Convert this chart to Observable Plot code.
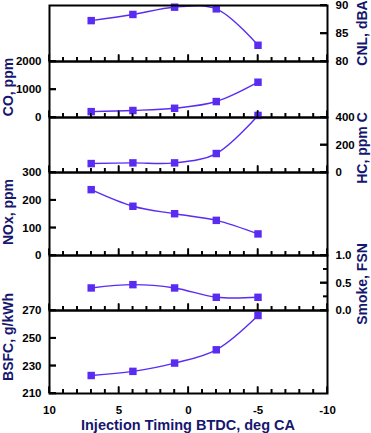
<!DOCTYPE html>
<html><head><meta charset="utf-8">
<script src="https://cdn.jsdelivr.net/npm/d3@7"></script>
<script src="https://cdn.jsdelivr.net/npm/@observablehq/plot@0.6"></script>
<style>
body{margin:0;background:#fff;}
#c{position:relative;width:371px;height:433px;overflow:hidden;font-family:"Liberation Sans",Arial,sans-serif;}
#c svg{position:absolute;left:0;}
</style></head><body><div id="c"></div>
<script>
// Data
const timing = [7, 4, 1, -2, -5];               // Injection timing BTDC, deg CA
const cnl    = [87.3, 88.4, 89.7, 89.4, 82.9];  // CNL, dBA
const co     = [210, 250, 330, 570, 1260];      // CO, ppm
const hc     = [65, 70, 70, 138, 415];          // HC, ppm C
const nox    = [238, 178, 151, 127, 78];        // NOx, ppm
const smoke  = [0.41, 0.47, 0.41, 0.24, 0.24];  // Smoke, FSN
const bsfc   = [223, 226, 232, 241.6, 266.4];   // BSFC, g/kWh

const xTickLabels = [10, 5, 0, -5, -10];
const xMinorTicks = d3.range(-10, 11);
const xTitle = "Injection Timing BTDC, deg CA";

const panels = [
  {values: cnl,   domain: [80, 90],   ticks: [80, 85, 90],        minor: [],          fmt: d => String(d),    side: "right", title: "CNL, dBA",    top: 5,   bottom: 61,  ty: 33},
  {values: co,    domain: [0, 2000],  ticks: [0, 1000, 2000],     minor: [],          fmt: d => String(d),    side: "left",  title: "CO, ppm",     top: 61,  bottom: 117, ty: 87},
  {values: hc,    domain: [0, 400],   ticks: [0, 200, 400],       minor: [],          fmt: d => String(d),    side: "right", title: "HC, ppm C",   top: 117, bottom: 172, ty: 148},
  {values: nox,   domain: [0, 300],   ticks: [0, 100, 200, 300],  minor: [],          fmt: d => String(d),    side: "left",  title: "NOx, ppm",    top: 172, bottom: 255, ty: 212},
  {values: smoke, domain: [0, 1],     ticks: [0, 0.5, 1],         minor: [0.25, 0.75], fmt: d => d.toFixed(1), side: "right", title: "Smoke, FSN",  top: 255, bottom: 310, ty: 284},
  {values: bsfc,  domain: [210, 270], ticks: [210, 230, 250, 270], minor: [],         fmt: d => String(d),    side: "left",  title: "BSFC, g/kWh", top: 310, bottom: 393, ty: 337}
];

const color = "#5a2cf2";
const navy = "#16166e";
const W = 371, ML = 49, MR = 44;
const PW = W - ML - MR;
const X0 = 10, X1 = -10;
const container = document.getElementById("c");
const built = [];

panels.forEach((p, i) => {
  const last = i === panels.length - 1;
  const mt = 4, mb = last ? 40 : 4;
  const ph = p.bottom - p.top;
  const [lo, hi] = p.domain;
  const data = timing.map((t, j) => ({t, v: p.values[j]}));
  // pixel lengths converted to data units so that the scales place the ticks
  const xu = px => px / PW * (X0 - X1);
  const yu = px => px / ph * (hi - lo);
  const yEdge = p.side === "left" ? X0 : X1;
  const yIn = len => p.side === "left" ? X0 - xu(len) : X1 + xu(len);
  const marks = [
    Plot.rect(xMinorTicks, {x1: d => d + xu(0.6), x2: d => d - xu(0.6), y1: lo, y2: d => lo + yu(xTickLabels.includes(d) ? 6.5 : 4), fill: "#000"}),
    Plot.rect(p.ticks, {x1: yEdge, x2: yIn(7), y1: d => d - yu(0.8), y2: d => d + yu(0.8), fill: "#000"}),
    Plot.rect(p.minor, {x1: yEdge, x2: yIn(4), y1: d => d - yu(0.6), y2: d => d + yu(0.6), fill: "#000"}),
    Plot.ruleX(xMinorTicks, {x: d => d, y1: lo, y2: d => lo + yu(xTickLabels.includes(d) ? 6.5 : 4), stroke: "#000", strokeWidth: 1.2}),
    Plot.ruleY(p.ticks, {y: d => d, x1: yEdge, x2: yIn(7), stroke: "#000", strokeWidth: 1.6}),
    Plot.ruleY(p.minor, {y: d => d, x1: yEdge, x2: yIn(4), stroke: "#000", strokeWidth: 1.2}),
    Plot.line(data, {x: "t", y: "v", curve: "catmull-rom", stroke: color, strokeWidth: 1.4}),
    Plot.dot(data, {x: "t", y: "v", symbol: "square", r: 4.2, fill: color}),
    Plot.axisY(p.ticks, {anchor: p.side, tickSize: 0, tickPadding: 8, tickFormat: p.fmt, label: null, fontWeight: "bold", fontSize: 11.5, fill: "#000"}),
    Plot.frame({stroke: "#000", strokeWidth: 2})
  ];
  if (last) marks.push(Plot.axisX(xTickLabels, {anchor: "bottom", tickSize: 0, tickPadding: 12, tickFormat: d => String(d), label: null, fontWeight: "bold", fontSize: 11.5, fill: "#000"}));
  const svg = Plot.plot({
    width: W,
    height: ph + mt + mb,
    marginLeft: ML, marginRight: MR, marginTop: mt, marginBottom: mb,
    x: {domain: [X0, X1], axis: last ? undefined : null},
    y: {domain: p.domain},
    style: {background: "transparent", overflow: "visible", fontFamily: "'Liberation Sans', Arial, sans-serif"},
    marks
  });
  const offset = p.top - mt;
  svg.style.top = offset + "px";
  container.appendChild(svg);
  built.push({p, svg, offset});
});

// Overlay: titles, plus tick marks as paths placed through each panel's Plot scales
const ov = d3.select(container).append("svg")
  .attr("width", W).attr("height", 433).style("top", "0px")
  .style("font-family", "'Liberation Sans', Arial, sans-serif").style("pointer-events", "none");

built.forEach(({p, svg, offset}) => {
  const sx = svg.scale("x"), sy = svg.scale("y");
  const yb = offset + sy.apply(p.domain[0]);
  let d = "";
  xMinorTicks.forEach(v => {
    const x = sx.apply(v), len = xTickLabels.includes(v) ? 6.5 : 4;
    d += `M${x},${yb}V${yb - len}`;
  });
  const xe = p.side === "left" ? sx.apply(X0) : sx.apply(X1);
  const dir = p.side === "left" ? 1 : -1;
  p.ticks.forEach(v => { const y = offset + sy.apply(v); d += `M${xe},${y}H${xe + dir * 7}`; });
  p.minor.forEach(v => { const y = offset + sy.apply(v); d += `M${xe},${y}H${xe + dir * 4}`; });
  ov.append("path").attr("d", d).attr("fill", "none").attr("stroke", "#000").attr("stroke-width", 1.4);
});

panels.forEach(p => {
  const x = p.side === "left" ? 8 : 362;
  ov.append("text")
    .attr("transform", `translate(${x},${p.ty}) rotate(-90)`)
    .attr("text-anchor", "middle").attr("dominant-baseline", "central")
    .attr("font-size", 14).attr("font-weight", "bold").attr("fill", navy)
    .text(p.title);
});
ov.append("text")
  .attr("x", ML + PW / 2).attr("y", 430)
  .attr("text-anchor", "middle").attr("font-size", 14.5).attr("font-weight", "bold").attr("fill", navy)
  .text(xTitle);
</script></body></html>
